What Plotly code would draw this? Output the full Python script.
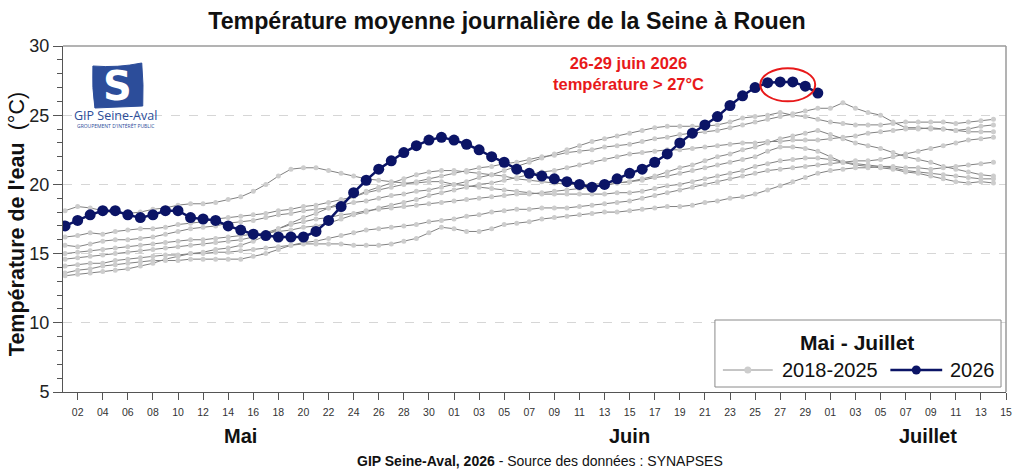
import plotly.graph_objects as go
import pandas as pd

# ---------------- data ----------------
dates_2026 = pd.date_range("2026-05-01", "2026-06-30", freq="D")
dates_hist = pd.date_range("2026-05-01", "2026-07-14", freq="D")

t2026 = [17.0, 17.4, 17.8, 18.1, 18.1, 17.8, 17.6, 17.8, 18.1, 18.1,
         17.6, 17.5, 17.4, 17.0, 16.7, 16.4, 16.3, 16.2, 16.2, 16.2,
         16.6, 17.4, 18.4, 19.4, 20.3, 21.1, 21.7, 22.3, 22.8, 23.2, 23.4,
         23.2, 22.9, 22.5, 22.0, 21.6, 21.1, 20.8, 20.6, 20.4, 20.2,
         20.0, 19.8, 20.0, 20.4, 20.8, 21.1, 21.6, 22.2, 23.0, 23.7,
         24.3, 24.9, 25.7, 26.4, 27.0, 27.35, 27.4, 27.4, 27.1, 26.6]

t2018 = [18.1, 18.4, 18.3, 18.1, 17.9, 17.9, 18.0, 18.2, 18.3, 18.5,
         18.6, 18.6, 18.7, 18.9, 19.1, 19.5, 20.0, 20.6, 21.1, 21.2,
         21.2, 21.0, 20.8, 20.6, 20.4, 20.3, 20.2, 20.1, 20.1, 20.2,
         20.2, 20.0, 19.9, 19.8, 19.7, 19.6, 19.5, 19.4, 19.3, 19.3,
         19.3, 19.3, 19.3, 19.3, 19.4, 19.4, 19.5, 19.7, 19.9, 20.0,
         20.2, 20.4, 20.6, 20.8, 21.0, 21.3, 21.5, 21.7, 21.8, 21.9,
         21.9, 21.8, 21.6, 21.5, 21.4, 21.3, 21.2, 21.0, 20.9, 20.8,
         20.7, 20.6, 20.5, 20.4, 20.4]
t2019 = [16.2, 16.3, 16.5, 16.4, 16.6, 16.7, 16.8, 16.8, 16.9, 17.1,
         17.2, 17.3, 17.5, 17.6, 17.7, 17.8, 17.9, 18.1, 18.2, 18.4,
         18.5, 18.7, 18.9, 19.1, 19.4, 19.6, 19.8, 20.0, 20.2, 20.4,
         20.6, 20.8, 21.0, 21.2, 21.3, 21.5, 21.6, 21.8, 22.0, 22.1,
         22.3, 22.4, 22.5, 22.7, 22.8, 22.9, 23.1, 23.3, 23.4, 23.6,
         23.7, 23.8, 23.9, 24.1, 24.3, 24.5, 24.7, 24.9, 25.1, 25.3,
         25.5, 25.5, 25.9, 25.5, 25.2, 25.0, 24.5, 24.1, 24.1, 24.0,
         24.0, 23.9, 23.8, 23.8, 23.8]
t2020 = [15.6, 15.5, 15.7, 15.9, 16.0, 16.0, 16.1, 16.2, 16.4, 16.6,
         16.8, 16.9, 17.0, 17.2, 17.3, 17.4, 17.6, 17.8, 17.9, 18.1,
         18.2, 18.3, 18.5, 18.7, 18.8, 19.0, 19.2, 19.3, 19.5, 19.6,
         19.8, 20.0, 20.2, 20.5, 20.7, 21.0, 21.3, 21.6, 21.9, 22.2,
         22.5, 22.8, 23.1, 23.3, 23.5, 23.7, 23.9, 24.1, 24.2, 24.2,
         24.2, 24.2, 24.3, 24.5, 24.8, 24.9, 25.0, 25.2, 25.0, 24.9,
         24.7, 24.5, 24.4, 24.3, 24.3, 24.3, 24.4, 24.5, 24.5, 24.5,
         24.5, 24.4, 24.5, 24.6, 24.7]
t2021 = [15.0, 15.1, 15.2, 15.3, 15.4, 15.5, 15.6, 15.7, 15.8, 15.9,
         16.0, 16.0, 16.1, 16.2, 16.3, 16.4, 16.5, 16.6, 16.7, 16.9,
         17.0, 17.2, 17.5, 17.8, 18.0, 18.3, 18.5, 18.7, 18.9, 19.2,
         19.4, 19.6, 19.8, 20.0, 20.1, 20.3, 20.5, 20.7, 20.9, 21.0,
         21.2, 21.4, 21.6, 21.8, 22.0, 22.2, 22.3, 22.4, 22.5, 22.5,
         22.6, 22.7, 22.8, 22.9, 23.0, 23.0, 23.1, 23.1, 23.2, 23.2,
         23.2, 23.3, 23.4, 23.5, 23.7, 23.8, 23.9, 24.0, 24.0, 24.1,
         24.0, 23.9, 24.0, 24.2, 24.3]
t2022 = [14.6, 14.7, 14.8, 14.9, 15.0, 15.1, 15.2, 15.3, 15.4, 15.5,
         15.6, 15.7, 15.8, 15.9, 16.0, 16.2, 16.5, 16.8, 17.1, 17.3,
         17.5, 17.6, 17.8, 17.9, 18.1, 18.2, 18.3, 18.4, 18.5, 18.6,
         18.7, 18.8, 18.9, 19.0, 19.1, 19.2, 19.3, 19.3, 19.4, 19.5,
         19.6, 19.7, 19.8, 19.9, 20.1, 20.2, 20.3, 20.5, 20.6, 20.8,
         21.0, 21.2, 21.4, 21.6, 21.8, 22.0, 22.4, 22.7, 22.7, 22.6,
         22.4, 22.0, 21.6, 21.4, 21.3, 21.2, 21.1, 20.9, 20.8, 20.6,
         20.4, 20.2, 20.1, 20.2, 20.1]
t2023 = [14.1, 14.2, 14.3, 14.3, 14.5, 14.6, 14.7, 14.8, 14.9, 14.9,
         15.0, 15.0, 15.1, 15.1, 15.2, 15.3, 15.4, 15.5, 15.6, 15.8,
         15.9, 16.1, 16.3, 16.5, 16.7, 16.8, 16.9, 17.0, 17.1, 17.3,
         17.4, 17.5, 17.7, 17.8, 18.0, 18.1, 18.2, 18.2, 18.3, 18.3,
         18.3, 18.4, 18.5, 18.6, 18.7, 18.8, 19.0, 19.2, 19.4, 19.6,
         19.8, 20.0, 20.2, 20.4, 20.6, 20.8, 21.0, 21.1, 21.2, 21.3,
         21.4, 21.5, 21.6, 21.7, 21.7, 21.8, 22.0, 22.2, 22.4, 22.6,
         22.8, 23.0, 23.2, 23.3, 23.4]
t2024 = [13.6, 13.8, 13.9, 14.1, 14.2, 14.3, 14.4, 14.5, 14.5, 14.5,
         14.6, 14.6, 14.6, 14.6, 14.6, 14.8, 15.0, 15.3, 15.6, 15.7,
         15.7, 15.7, 15.7, 15.6, 15.6, 15.6, 15.7, 15.9, 16.1, 16.5,
         16.9, 16.8, 16.6, 16.6, 16.8, 17.1, 17.2, 17.3, 17.5, 17.6,
         17.7, 17.8, 17.9, 18.0, 18.0, 18.1, 18.2, 18.3, 18.4, 18.4,
         18.5, 18.7, 18.8, 19.0, 19.1, 19.3, 19.6, 19.9, 20.2, 20.5,
         20.8, 21.0, 21.1, 21.2, 21.2, 21.3, 21.3, 21.2, 21.2, 21.1,
         21.2, 21.3, 21.4, 21.5, 21.6]
t2025 = [13.4, 13.5, 13.6, 13.7, 13.8, 13.9, 14.1, 14.3, 14.6, 14.8,
         15.0, 15.1, 15.3, 15.4, 15.6, 15.9, 16.3, 16.8, 17.2, 17.6,
         17.9, 18.3, 18.7, 19.1, 19.5, 19.8, 20.1, 20.4, 20.7, 20.9,
         21.0, 21.0, 20.9, 20.8, 20.7, 20.6, 20.4, 20.3, 20.2, 20.1,
         20.0, 20.0, 20.0, 20.1, 20.1, 20.2, 20.4, 20.6, 20.9, 21.2,
         21.4, 21.7, 22.0, 22.2, 22.5, 22.7, 23.0, 23.3, 23.5, 23.7,
         23.9, 23.6, 23.3, 23.0, 22.8, 22.6, 22.3, 22.0, 21.8, 21.6,
         21.3, 21.1, 20.9, 20.7, 20.6]

hist_years = ["2018", "2019", "2020", "2021", "2022", "2023", "2024", "2025"]
hist_values = [t2018, t2019, t2020, t2021, t2022, t2023, t2024, t2025]

y_ticks = [5, 10, 15, 20, 25, 30]
month_labels = ["Mai", "Juin", "Juillet"]
month_label_dates = ["2026-05-15", "2026-06-15", "2026-07-08 19:00"]

FONT = "Liberation Sans, Arial, sans-serif"
NAVY = "#0b1466"
RED = "#e8191a"

# pixel -> paper helpers (plot area: x 63..1009, y 46..392)
def px(x):
    return (x - 63) / 946.0

def py(y):
    return (392 - y) / 346.0

fig = go.Figure()

for yr, vals in zip(hist_years, hist_values):
    fig.add_trace(go.Scatter(
        x=dates_hist, y=vals, mode="lines+markers", name=yr,
        line=dict(color="#808080", width=1),
        marker=dict(color="#cdcdcd", size=5),
        showlegend=False))

fig.add_trace(go.Scatter(
    x=dates_2026, y=t2026, mode="lines+markers", name="2026",
    line=dict(color=NAVY, width=2.5),
    marker=dict(color=NAVY, size=11),
    showlegend=False))

shapes = []
# top / right frame
shapes.append(dict(type="line", xref="paper", yref="paper", x0=0, x1=1, y0=1, y1=1,
                   line=dict(color="#9a9a9a", width=1.5)))
shapes.append(dict(type="line", xref="paper", yref="paper", x0=1, x1=1, y0=0, y1=1,
                   line=dict(color="#9a9a9a", width=1.5)))
# red ellipse
shapes.append(dict(type="circle", xref="x", yref="y",
                   x0="2026-06-25 10:00", x1="2026-06-29 19:00", y0=26.0, y1=28.4,
                   line=dict(color=RED, width=2)))
# legend box
shapes.append(dict(type="rect", xref="paper", yref="paper",
                   x0=px(717), x1=px(1004), y0=py(387), y1=py(320),
                   fillcolor="white", line=dict(color="#8a8a8a", width=1)))
# legend samples
shapes.append(dict(type="line", xref="paper", yref="paper",
                   x0=px(725), x1=px(775), y0=py(370), y1=py(370),
                   line=dict(color="#8c8c8c", width=1)))
shapes.append(dict(type="circle", xref="paper", yref="paper",
                   xsizemode="pixel", ysizemode="pixel",
                   xanchor=px(750), yanchor=py(370), x0=-3.5, x1=3.5, y0=-3.5, y1=3.5,
                   fillcolor="#cdcdcd", line=dict(color="#cdcdcd", width=0)))
shapes.append(dict(type="line", xref="paper", yref="paper",
                   x0=px(893), x1=px(945), y0=py(370), y1=py(370),
                   line=dict(color=NAVY, width=2.5)))
shapes.append(dict(type="circle", xref="paper", yref="paper",
                   xsizemode="pixel", ysizemode="pixel",
                   xanchor=px(919), yanchor=py(370), x0=-4.5, x1=4.5, y0=-4.5, y1=4.5,
                   fillcolor=NAVY, line=dict(color=NAVY, width=0)))
# logo block
shapes.append(dict(type="path", xref="paper", yref="paper",
                   path=(f"M {px(95)},{py(108)} L {px(143)},{py(106)} "
                         f"Q {px(144)},{py(85)} {px(142)},{py(63)} "
                         f"Q {px(118)},{py(68)} {px(93)},{py(66)} "
                         f"Q {px(92)},{py(88)} {px(95)},{py(108)} Z"),
                   fillcolor="#2c4d9a", line=dict(color="#2c4d9a", width=1)))

annotations = []
annotations.append(dict(text="<b>Température de l'eau</b>  (°C)", textangle=-90,
                        xref="paper", yref="paper", x=px(17), y=py(224),
                        xanchor="center", yanchor="middle", showarrow=False,
                        font=dict(family=FONT, size=21.5, color="#111")))
for lab, d in zip(month_labels, month_label_dates):
    annotations.append(dict(text=f"<b>{lab}</b>", xref="x", yref="paper", x=d, y=py(436),
                            xanchor="center", yanchor="middle", showarrow=False,
                            font=dict(family=FONT, size=20, color="#111")))
annotations.append(dict(text="<b>GIP Seine-Aval, 2026</b> - Source des données : SYNAPSES",
                        xref="paper", yref="paper", x=px(542), y=py(461),
                        xanchor="center", yanchor="middle", showarrow=False,
                        font=dict(family=FONT, size=14, color="#111")))
annotations.append(dict(text="<b>26-29 juin 2026<br>température > 27°C</b>",
                        xref="paper", yref="paper", x=px(630), y=py(74),
                        xanchor="center", yanchor="middle", showarrow=False,
                        font=dict(family=FONT, size=16.5, color=RED)))
annotations.append(dict(text="<b>Mai - Juillet</b>", xref="paper", yref="paper",
                        x=px(860), y=py(342), xanchor="center", yanchor="middle",
                        showarrow=False, font=dict(family=FONT, size=21, color="#111")))
annotations.append(dict(text="2018-2025", xref="paper", yref="paper",
                        x=px(782), y=py(370), xanchor="left", yanchor="middle",
                        showarrow=False, font=dict(family=FONT, size=20, color="#111")))
annotations.append(dict(text="2026", xref="paper", yref="paper",
                        x=px(951), y=py(370), xanchor="left", yanchor="middle",
                        showarrow=False, font=dict(family=FONT, size=20, color="#111")))
# logo text
annotations.append(dict(text="<b>S</b>", xref="paper", yref="paper",
                        x=px(118), y=py(86), xanchor="center", yanchor="middle",
                        showarrow=False, font=dict(family="DejaVu Sans", size=40, color="white")))
annotations.append(dict(text="GIP Seine-Aval", xref="paper", yref="paper",
                        x=px(116), y=py(116), xanchor="center", yanchor="middle",
                        showarrow=False, font=dict(family="Open Sans", size=12.5, color="#2c4d9a")))
annotations.append(dict(text="GROUPEMENT D'INTÉRÊT PUBLIC", xref="paper", yref="paper",
                        x=px(116), y=py(126), xanchor="center", yanchor="middle",
                        showarrow=False, font=dict(family="Open Sans", size=5, color="#2c4d9a")))

fig.update_layout(
    width=1024, height=476,
    margin=dict(l=63, r=15, t=46, b=84),
    paper_bgcolor="white", plot_bgcolor="white",
    title=dict(text="<b>Température moyenne journalière de la Seine à Rouen</b>",
               x=507 / 1024, y=1 - 21 / 476, xanchor="center", yanchor="middle",
               font=dict(family=FONT, size=23.2, color="#111")),
    font=dict(family=FONT, color="#222"),
    shapes=shapes, annotations=annotations,
    showlegend=False,
)
fig.update_xaxes(
    type="date", range=["2026-04-30 20:00", "2026-07-15 00:00"],
    tick0="2026-05-02", dtick=2 * 86400000, tickformat="%d",
    ticks="outside", ticklen=7, tickcolor="#555", tickwidth=1,
    ticklabelstandoff=3,
    tickfont=dict(family=FONT, size=10.5, color="#333"),
    showgrid=False, showline=True, linecolor="#555", linewidth=1, zeroline=False,
)
fig.update_yaxes(
    range=[5, 30], tickvals=y_ticks,
    ticks="outside", ticklen=9, tickcolor="#555", tickwidth=1,
    tickfont=dict(family=FONT, size=18, color="#222"),
    minor=dict(dtick=1, ticks="outside", ticklen=5, tickcolor="#555", showgrid=False),
    showgrid=True, gridcolor="#d6d6d6", griddash="dash", gridwidth=1,
    showline=True, linecolor="#555", linewidth=1, zeroline=False,
)

fig.write_html("out.html")
